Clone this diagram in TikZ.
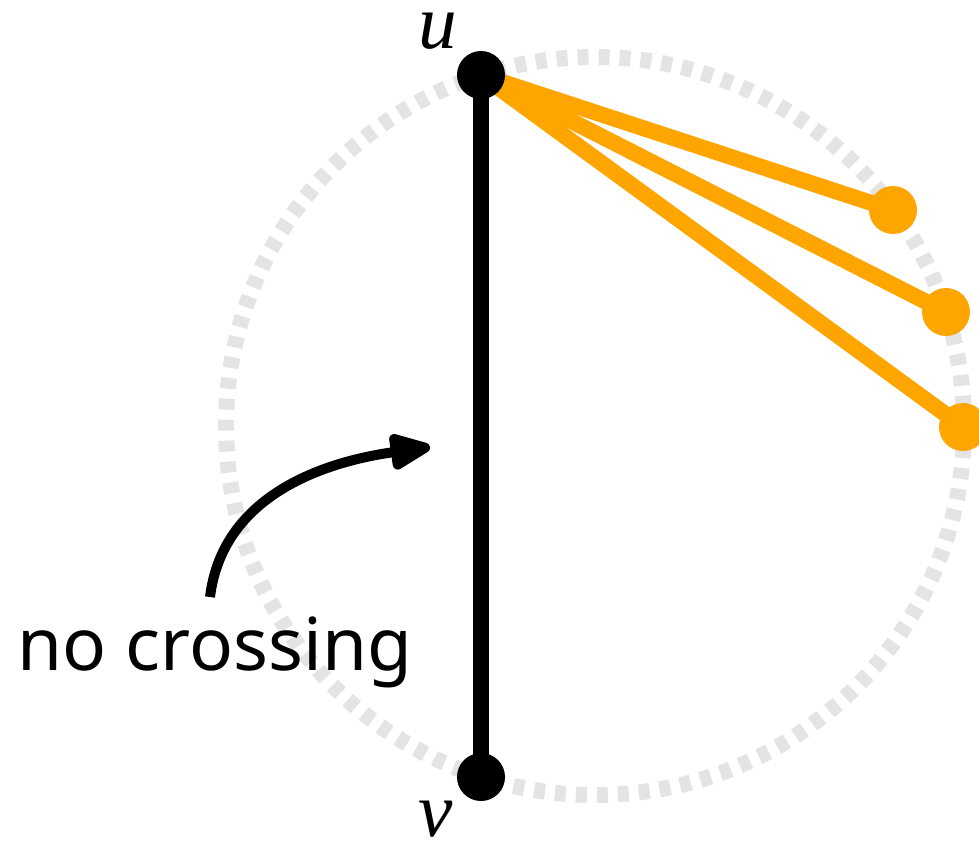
\documentclass[tikz,border=0pt]{standalone}
\usepackage{fontspec}
\setsansfont{Noto Sans}
\newfontfamily\labelfont{Liberation Serif}
\usetikzlibrary{arrows.meta, positioning, backgrounds}
\definecolor{leaforange}{HTML}{FFA500}
\definecolor{ringgray}{HTML}{E3E4E3}

\begin{document}
\begin{tikzpicture}[x=0.02cm, y=-0.02cm]
    \tikzstyle{vert}=[circle, fill=black, minimum size=0.96cm, inner sep=0pt]
    \tikzstyle{leaf}=[circle, fill=leaforange, minimum size=0.96cm, inner sep=0pt]
    \tikzstyle{ring}=[draw=ringgray, line width=0.32cm, dash pattern=on 0.22cm off 0.2cm]
    \tikzstyle{chord}=[line width=0.32cm]
    \tikzstyle{vlbl}=[font=\labelfont\itshape\fontsize{44}{46}\selectfont, inner sep=0pt]
    \tikzstyle{annot}=[font=\sffamily\fontsize{41.5}{44}\selectfont, inner sep=0pt]

    \useasboundingbox (0,0) rectangle (979,840);

    \node[vert] (u) at (481,75) {};
    \node[vert] (v) at (481,777) {};
    \node[leaf] (a) at (893,210) {};
    \node[leaf] (b) at (946,312) {};
    \node[leaf] (c) at (963,427) {};

    \begin{scope}[on background layer]
    \draw[ring] (595,426) circle[radius=369];
    \draw[chord] (u.center) -- (v.center);
    \draw[chord, draw=leaforange] (u.center) -- (a.center);
    \draw[chord, draw=leaforange] (u.center) -- (b.center);
    \draw[chord, draw=leaforange] (u.center) -- (c.center);
    \end{scope}

    \node[vlbl, anchor=base] (ulabel) at (438,48) {u};
    \node[vlbl, anchor=base] (vlabel) at (436,836) {v};

    \node[annot, anchor=base] (note) at (215,670) {no crossing};
    \coordinate (src) at (210,597);
    \coordinate (tip) at (430,447);
    \draw[-{Triangle[length=0.96cm,width=0.76cm,round]}, line width=0.2cm] (src) to[out=83, in=188] (tip);
\end{tikzpicture}
\end{document}
